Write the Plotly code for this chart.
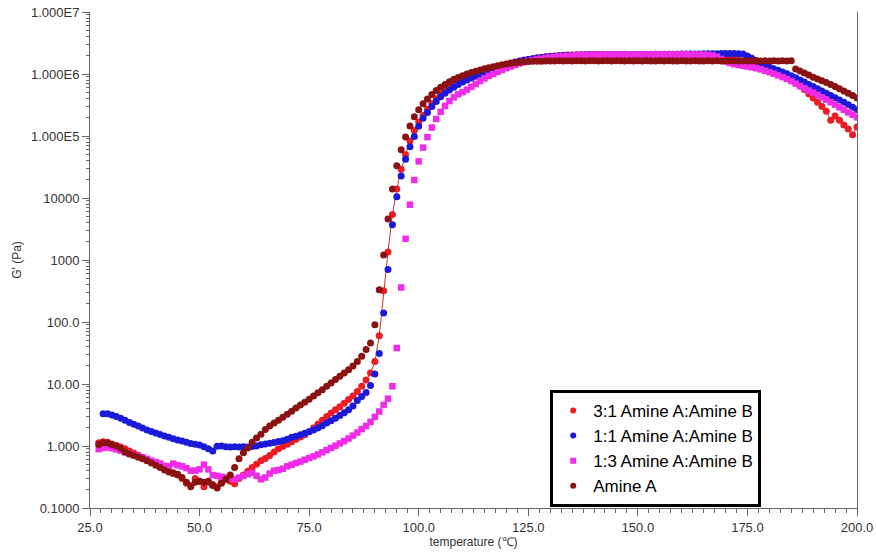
import plotly.graph_objects as go

# temperature grid (degC) shared by all series
temps = list(range(27, 201))

# G' (Pa), one value per degree, 27..200
g_31 = [
    1.13, 1.17, 1.15,
    1.08, 1.02, 0.96, 0.90, 0.83, 0.77, 0.71, 0.66, 0.60, 0.56,
    0.51, 0.48, 0.45, 0.40, 0.37, 0.34, 0.30, 0.25, 0.23, 0.30,
    0.27, 0.22, 0.26, 0.24, 0.22, 0.26, 0.29, 0.27, 0.245, 0.30,
    0.34, 0.39, 0.45, 0.51, 0.58, 0.63, 0.70, 0.80, 0.90, 0.98,
    1.07, 1.17, 1.28, 1.40, 1.52, 1.70, 1.95, 2.25, 2.60, 3.00,
    3.40, 3.85, 4.30, 4.90, 5.60, 6.40, 7.60, 9.20, 11.6, 15.0,
    23, 60, 320, 1350, 5400, 14000, 29000, 50000, 83000, 123000,
    168000, 215000, 270000, 330000, 400000, 470000, 540000, 610000, 670000, 730000,
    790000, 850000, 910000, 970000, 1030000, 1090000, 1150000, 1220000, 1290000, 1360000,
    1430000, 1500000, 1560000, 1620000, 1680000, 1720000, 1770000, 1820000, 1860000, 1900000,
    1930000, 1960000, 1980000, 2000000, 2020000, 2030000, 2040000, 2050000, 2050000, 2060000,
    2060000, 2070000, 2060000, 2070000, 2070000, 2060000, 2070000, 2080000, 2070000, 2070000,
    2070000, 2080000, 2070000, 2080000, 2080000, 2070000, 2080000, 2080000, 2070000, 2080000,
    2080000, 2070000, 2080000, 2070000, 2070000, 2060000, 2050000, 2040000, 2020000, 1990000,
    1950000, 1850000, 1750000, 1660000, 1580000, 1500000, 1430000, 1360000, 1290000, 1220000,
    1150000, 1080000, 1010000, 940000, 870000, 800000, 720000, 640000, 560000, 480000,
    410000, 350000, 300000, 250000, 180000, 210000, 180000, 150000, 130000, 105000,
    140000,
]

g_11 = [
    None, 3.30, 3.30,
    3.15, 3.00, 2.80, 2.60, 2.40, 2.25, 2.10, 1.95, 1.82, 1.72,
    1.62, 1.53, 1.45, 1.38, 1.31, 1.25, 1.20, 1.15, 1.10, 1.07,
    1.04, 0.97, 0.90, 0.83, 0.99, 1.00, 0.97, 0.96, 0.97, 0.96,
    0.97, 0.96, 0.98, 1.00, 1.05, 1.08, 1.11, 1.14, 1.18, 1.22,
    1.29, 1.38, 1.44, 1.52, 1.60, 1.70, 1.82, 1.96, 2.12, 2.35,
    2.55, 2.80, 3.10, 3.45, 3.85, 4.40, 5.40, 6.30, 7.30, 9.50,
    14.5, 31, 140, 700, 3700, 10500, 22600, 42000, 67000, 98000,
    143000, 193000, 240000, 300000, 360000, 430000, 490000, 550000, 610000, 680000,
    740000, 800000, 860000, 920000, 990000, 1060000, 1130000, 1200000, 1270000, 1340000,
    1410000, 1480000, 1550000, 1610000, 1670000, 1720000, 1770000, 1810000, 1850000, 1880000,
    1910000, 1940000, 1960000, 1980000, 2000000, 2010000, 2020000, 2030000, 2040000, 2040000,
    2050000, 2050000, 2060000, 2050000, 2060000, 2060000, 2060000, 2070000, 2060000, 2070000,
    2070000, 2070000, 2080000, 2070000, 2080000, 2080000, 2090000, 2080000, 2090000, 2090000,
    2100000, 2100000, 2110000, 2100000, 2110000, 2120000, 2120000, 2130000, 2130000, 2140000,
    2140000, 2150000, 2140000, 2130000, 2100000, 1950000, 1800000, 1650000, 1500000, 1380000,
    1300000, 1220000, 1150000, 1080000, 1010000, 940000, 870000, 800000, 740000, 680000,
    630000, 580000, 530000, 490000, 450000, 415000, 380000, 350000, 320000, 290000,
    265000,
]

g_13 = [
    0.89, 0.93, 0.95,
    0.92, 0.88, 0.84, 0.79, 0.75, 0.72, 0.69, 0.65, 0.62, 0.58,
    0.55, 0.52, 0.48, 0.47, 0.52, 0.49, 0.47, 0.44, 0.40, 0.40,
    0.42, 0.50, 0.42, 0.34, 0.33, 0.32, 0.31, 0.30, 0.29, 0.31,
    0.33, 0.35, 0.37, 0.33, 0.29, 0.31, 0.36, 0.40, 0.41, 0.43,
    0.47, 0.50, 0.53, 0.56, 0.60, 0.64, 0.68, 0.73, 0.79, 0.86,
    0.93, 1.01, 1.10, 1.20, 1.32, 1.47, 1.65, 1.87, 2.10, 2.45,
    2.95, 3.60, 4.60, 5.80, 9.20, 38, 360, 2200, 7800, 19500,
    39000, 65000, 96000, 137000, 188000, 245000, 305000, 365000, 420000, 470000,
    510000, 560000, 620000, 690000, 770000, 850000, 930000, 1000000, 1080000, 1160000,
    1240000, 1320000, 1400000, 1480000, 1550000, 1610000, 1670000, 1720000, 1770000, 1810000,
    1850000, 1880000, 1910000, 1940000, 1960000, 1980000, 2000000, 2010000, 2020000, 2030000,
    2040000, 2040000, 2050000, 2050000, 2060000, 2060000, 2060000, 2070000, 2070000, 2070000,
    2070000, 2080000, 2080000, 2070000, 2080000, 2080000, 2080000, 2070000, 2080000, 2080000,
    2070000, 2070000, 2060000, 2060000, 2050000, 2050000, 2030000, 2000000, 1900000, 1750000,
    1600000, 1500000, 1440000, 1400000, 1360000, 1320000, 1280000, 1240000, 1190000, 1130000,
    1070000, 1010000, 950000, 890000, 830000, 770000, 700000, 640000, 590000, 540000,
    500000, 460000, 420000, 385000, 350000, 320000, 290000, 265000, 240000, 220000,
    200000,
]

g_a = [
    1.06, 1.13, 1.12,
    1.06, 1.00, 0.92, 0.80, 0.74, 0.70, 0.66, 0.62, 0.58, 0.53,
    0.49, 0.45, 0.41, 0.38, 0.36, 0.35, 0.31, 0.26, 0.22, 0.26,
    0.27, 0.26, 0.27, 0.23, 0.21, 0.25, 0.29, 0.34, 0.45, 0.62,
    0.78, 0.93, 1.15, 1.35, 1.55, 1.85, 2.10, 2.35, 2.60, 2.90,
    3.25, 3.65, 4.10, 4.60, 5.10, 5.70, 6.40, 7.20, 8.10, 9.20,
    10.4, 11.8, 13.3, 15.0, 17.0, 19.5, 23.0, 28.0, 36.0, 46.0,
    90, 330, 1200, 4600, 14000, 33000, 60000, 96000, 145000, 205000,
    265000, 330000, 395000, 465000, 540000, 610000, 680000, 750000, 820000, 880000,
    940000, 1000000, 1060000, 1110000, 1160000, 1210000, 1260000, 1310000, 1360000, 1410000,
    1450000, 1490000, 1520000, 1550000, 1570000, 1590000, 1600000, 1610000, 1610000, 1620000,
    1620000, 1620000, 1630000, 1620000, 1630000, 1620000, 1630000, 1630000, 1620000, 1630000,
    1630000, 1620000, 1630000, 1630000, 1620000, 1630000, 1630000, 1620000, 1630000, 1620000,
    1630000, 1620000, 1630000, 1620000, 1620000, 1630000, 1620000, 1630000, 1620000, 1620000,
    1630000, 1620000, 1620000, 1630000, 1620000, 1620000, 1630000, 1620000, 1630000, 1620000,
    1620000, 1630000, 1620000, 1620000, 1630000, 1620000, 1630000, 1620000, 1620000, 1630000,
    1620000, 1630000, 1620000, 1630000, 1620000, 1630000, 1200000, 1120000, 1040000, 960000,
    890000, 830000, 780000, 730000, 680000, 630000, 580000, 530000, 490000, 450000,
    410000,
]

series_names = ["3:1 Amine A:Amine B", "1:1 Amine A:Amine B", "1:3 Amine A:Amine B", "Amine A"]

x_ticks = [25, 50, 75, 100, 125, 150, 175, 200]
x_ticktext = ["25.0", "50.0", "75.0", "100.0", "125.0", "150.0", "175.0", "200.0"]
y_ticks = [0.1, 1, 10, 100, 1000, 10000, 1e5, 1e6, 1e7]
y_ticktext = ["0.1000", "1.000", "10.00", "100.0", "1000", "10000", "1.000E5", "1.000E6", "1.000E7"]

RED = "#ec1c24"
BLUE = "#1a1ad8"
PINK = "#f02ce8"
DARK = "#8a1212"
FONT = "Liberation Sans, Arial, sans-serif"

fig = go.Figure()
fig.add_trace(go.Scatter(x=temps, y=g_31, mode="lines+markers", showlegend=False,
                         line=dict(color="#b83a3a", width=1),
                         marker=dict(color=RED, size=7, symbol="circle", line=dict(width=0))))
fig.add_trace(go.Scatter(x=temps, y=g_11, mode="markers", showlegend=False,
                         marker=dict(color=BLUE, size=7, symbol="circle", line=dict(width=0))))
fig.add_trace(go.Scatter(x=temps, y=g_13, mode="markers", showlegend=False,
                         marker=dict(color=PINK, size=6.5, symbol="square", line=dict(width=0))))
fig.add_trace(go.Scatter(x=temps, y=g_a, mode="markers", showlegend=False,
                         marker=dict(color=DARK, size=7, symbol="circle", line=dict(width=0))))

# legend entries (small symbols like the reference)
fig.add_trace(go.Scatter(x=[None], y=[None], mode="markers", name=series_names[0],
                         marker=dict(color=RED, size=6, symbol="circle")))
fig.add_trace(go.Scatter(x=[None], y=[None], mode="markers", name=series_names[1],
                         marker=dict(color=BLUE, size=6, symbol="circle")))
fig.add_trace(go.Scatter(x=[None], y=[None], mode="markers", name=series_names[2],
                         marker=dict(color=PINK, size=6, symbol="square")))
fig.add_trace(go.Scatter(x=[None], y=[None], mode="markers", name=series_names[3],
                         marker=dict(color=DARK, size=6, symbol="circle")))

minor_y = [m * 10 ** e for e in range(-1, 7) for m in range(2, 10)]

fig.update_layout(
    width=876, height=552,
    margin=dict(l=90, r=19, t=12, b=44),
    paper_bgcolor="white", plot_bgcolor="white",
    font=dict(family=FONT, color="#333333", size=13),
    legend=dict(x=0.60, y=0.238, xanchor="left", yanchor="top",
                bgcolor="white", bordercolor="black", borderwidth=3,
                font=dict(family=FONT, size=17, color="black"),
                itemwidth=30, tracegroupgap=0),
    xaxis=dict(range=[25, 200], tickmode="array", tickvals=x_ticks, ticktext=x_ticktext,
               automargin=False,
               ticks="outside", ticklen=7, tickcolor="#666", tickwidth=1,
               showline=True, linecolor="#666", linewidth=1, mirror=False,
               showgrid=False, zeroline=False,
               tickfont=dict(size=13, color="#333"),
               minor=dict(dtick=2.5, tick0=25, ticks="outside", ticklen=4, tickcolor="#666", showgrid=False),
               title=dict(text="temperature (℃)", font=dict(size=12, color="#333"), standoff=2)),
    yaxis=dict(type="log", range=[-1, 7], tickmode="array", tickvals=y_ticks, ticktext=y_ticktext,
               automargin=False,
               ticks="outside", ticklen=7, tickcolor="#666", tickwidth=1,
               showline=True, linecolor="#666", linewidth=1, mirror=True,
               showgrid=False, zeroline=False,
               tickfont=dict(size=13, color="#333"),
               minor=dict(tickmode="array", tickvals=minor_y, ticks="outside", ticklen=3,
                          tickcolor="#666", showgrid=False),
               title=dict(text="G' (Pa)", font=dict(size=12, color="#333"), standoff=6)),
)

fig.write_html("out.html", config={"displayModeBar": False},
               post_script="document.body.style.margin='0px';")
